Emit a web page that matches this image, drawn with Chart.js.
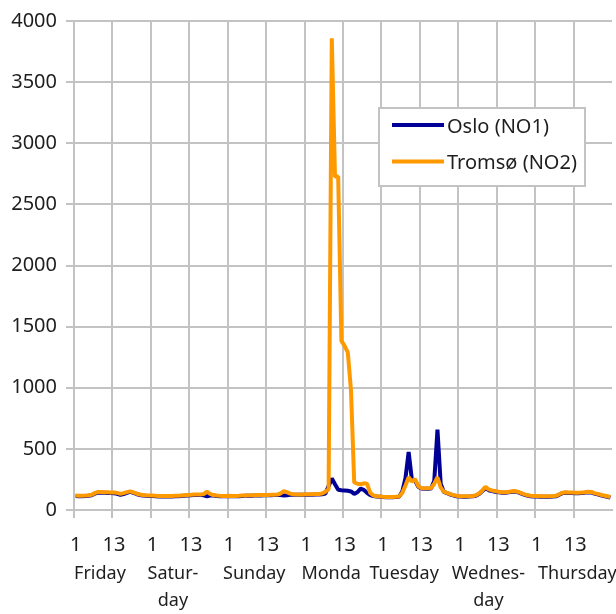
<!DOCTYPE html>
<html>
<head>
<meta charset="utf-8">
<script src="https://cdn.jsdelivr.net/npm/chart.js@4.4.1/dist/chart.umd.min.js"></script>
<style>
  html, body { margin: 0; padding: 0; background: #fff; }
  #wrap { width: 616px; height: 614px; }
</style>
</head>
<body>
<div id="wrap"><canvas id="priceChart" width="616" height="614"></canvas></div>
<script>
// day names as printed under the axis (two-line ones split in arrays)
const dayNames = ['Friday', ['Satur-', 'day'], 'Sunday', 'Monda', 'Tuesday', ['Wednes-', 'day'], 'Thursday'];
const hoursPerDay = 24;
const tickHours = ['1', '13'];
const yTicks = [0, 500, 1000, 1500, 2000, 2500, 3000, 3500, 4000];

// hourly values, Friday 1 -> Thursday 24
const oslo = [
  114,113,113,114,116,121,133,143,142,141,140,139,137,133,124,130,140,148,141,131,123,118,116,115,
  114,112,111,110,110,110,111,112,113,115,117,119,120,122,123,123,120,112,118,118,115,113,112,112,
  113,112,112,113,115,116,117,117,118,119,119,120,120,121,122,123,122,118,120,124,124,124,124,124,
  124,124,125,126,127,128,135,195,258,210,165,162,160,157,152,132,145,175,165,140,122,114,110,108,
  106,105,105,105,106,108,150,260,475,250,240,190,176,174,173,176,240,657,215,148,138,127,119,113,
  110,109,109,110,112,117,131,155,180,162,155,150,146,141,141,144,148,151,146,136,126,118,113,111,
  110,109,109,109,109,110,112,124,138,141,140,139,138,138,139,142,146,144,134,128,121,114,108,102
];
const tromso = [
  118,117,117,118,120,125,138,148,147,146,145,144,143,140,132,138,146,152,145,135,127,122,120,119,
  118,116,115,114,114,114,115,116,117,119,121,123,124,126,127,127,130,150,132,122,118,116,115,115,
  116,115,115,116,118,119,120,120,121,122,122,123,123,124,125,127,135,155,146,134,129,127,127,127,
  128,128,129,130,131,135,150,170,3858,2727,2727,1384,1343,1290,977,225,215,210,218,215,140,118,112,110,
  108,107,107,107,108,110,140,200,268,232,252,195,180,178,177,180,215,268,185,150,140,130,122,116,
  113,112,112,113,115,120,135,160,190,168,160,155,150,145,145,148,152,155,150,140,130,122,117,115,
  114,113,113,113,113,114,116,128,142,145,144,143,142,142,143,146,150,148,138,132,125,118,112,106
];

// where each day name sits along the hour axis
const dayLabelAt = [8.1, 30.9, 56.3, 80.3, 103.1, 129.4, 157.2];

const GRID = '#c3c3c3';
const TEXT = '#1e1e1e';

const hourLabels = [];
dayNames.forEach(() => {
  for (let h = 1; h <= hoursPerDay; h++) hourLabels.push(String(h));
});

Chart.defaults.font.family = '"Noto Sans", sans-serif';
Chart.defaults.font.size = 20;
Chart.defaults.color = TEXT;

// legend box drawn inside the plot
const legendBox = {
  id: 'legendBox',
  afterDraw(chart) {
    const c = chart.ctx;
    c.save();
    c.fillStyle = '#fff';
    c.fillRect(379, 108, 206, 78);
    c.strokeStyle = GRID;
    c.lineWidth = 2;
    c.strokeRect(379, 108, 206, 78);
    c.font = '20px "Noto Sans"';
    c.textBaseline = 'middle';
    chart.data.datasets.forEach((ds, i) => {
      const y = 125 + i * 36.5;
      c.strokeStyle = ds.borderColor;
      c.lineWidth = 4;
      c.beginPath();
      c.moveTo(392, y);
      c.lineTo(444, y);
      c.stroke();
      c.fillStyle = TEXT;
      c.fillText(ds.label, 447, y + 2);
    });
    c.restore();
  }
};

const lineStyle = { borderWidth: 4, pointRadius: 0, tension: 0, fill: false, borderJoinStyle: 'bevel' };

new Chart(document.getElementById('priceChart').getContext('2d'), {
  type: 'line',
  data: {
    labels: hourLabels,
    datasets: [
      Object.assign({ label: 'Oslo (NO1)', data: oslo, borderColor: '#000096', order: 1 }, lineStyle),
      Object.assign({ label: 'Tromsø (NO2)', data: tromso, borderColor: '#ff9900', order: 0 }, lineStyle)
    ]
  },
  options: {
    responsive: false,
    animation: false,
    devicePixelRatio: 1,
    layout: { padding: { top: 19, right: 4, left: 0, bottom: 0 } },
    plugins: { legend: { display: false }, tooltip: { enabled: false } },
    scales: {
      x: {
        type: 'category',
        offset: true,
        grid: {
          offset: true,
          lineWidth: 2,
          tickLength: 8,
          color: ctx => (ctx.tick && tickHours.includes(hourLabels[ctx.index]) ? GRID : 'transparent'),
          tickColor: ctx => (ctx.tick && tickHours.includes(hourLabels[ctx.index]) ? GRID : 'transparent')
        },
        border: { color: GRID, width: 2 },
        ticks: {
          autoSkip: false,
          maxRotation: 0,
          minRotation: 0,
          padding: 15,
          callback: function (value) {
            const l = this.getLabelForValue(value);
            return tickHours.includes(l) ? l : '';
          }
        },
        afterFit: s => { s.height = 45; s.paddingLeft = 0; s.paddingRight = 0; }
      },
      days: {
        type: 'linear',
        position: 'bottom',
        min: 0,
        max: dayNames.length * hoursPerDay,
        grid: { display: false, drawTicks: false },
        border: { display: false },
        afterBuildTicks: s => { s.ticks = dayLabelAt.map(v => ({ value: v })); },
        ticks: {
          autoSkip: false,
          maxRotation: 0,
          minRotation: 0,
          padding: 5,
          font: { size: 18, lineHeight: 1.5 },
          callback: (v, i) => dayNames[i]
        },
        afterFit: s => { s.height = 59; s.paddingLeft = 0; s.paddingRight = 0; }
      },
      y: {
        min: 0,
        max: 4000,
        afterBuildTicks: s => { s.ticks = yTicks.map(v => ({ value: v })); },
        grid: { color: GRID, lineWidth: 2, tickLength: 8 },
        border: { color: GRID, width: 2 },
        ticks: { padding: 9, callback: v => String(v) },
        afterFit: s => { s.width = 74; }
      }
    }
  },
  plugins: [legendBox]
});
</script>
</body>
</html>
